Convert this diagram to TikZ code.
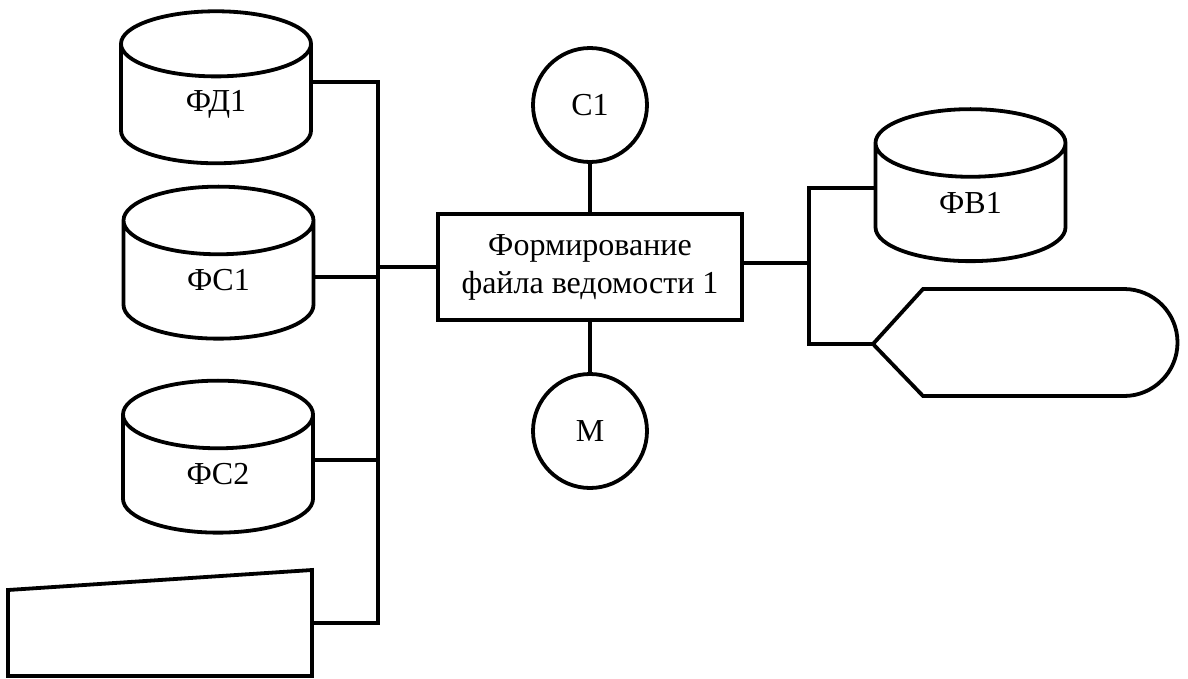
\documentclass[tikz,border=0pt]{standalone}
\usepackage{fontspec}
\setmainfont{Liberation Serif}
\newfontfamily\diagfont{Liberation Serif}
\usetikzlibrary{shapes.geometric,positioning,calc}

\begin{document}
\begin{tikzpicture}[
    x=1pt, y=-1pt,
    line width=3.8pt,
    font=\diagfont\fontsize{32}{38}\selectfont,
    store/.style={draw, cylinder, shape border rotate=90, aspect=1.08,
                  minimum width=190pt, minimum height=152pt, inner sep=0pt},
    proc/.style={draw, rectangle, align=center, inner sep=0pt,
                 minimum width=304pt, minimum height=106pt},
    conn/.style={draw, circle, minimum size=114pt, inner sep=0pt},
    link/.style={draw, line join=miter}
  ]
    \useasboundingbox (0,0) rectangle (1188,678);

    % data stores on the left
    \node[store] (fd1) at (216,104.5)  {ФД1};
    \node[store] (fs1) at (218.5,280.5) {ФС1};
    \node[store] (fs2) at (218,474.5) {ФС2};

    % process with its connectors
    \node[proc] (form) at (590,267) {Формирование\\файла ведомости 1};
    \node[conn] (c1) at (590,105) {С1};
    \node[conn] (m)  at (590,431) {М};

    % output store
    \node[store] (fv1) at (970.5,203) {ФВ1};

    % manual input and display
    \draw[link] (8,590) -- (312,570) -- (312,676) -- (8,676) -- cycle;
    \coordinate (inp) at (312,623);
    \draw[link] (873,344) -- (923,289) -- (1124,289)
        arc[start angle=-90, end angle=90, radius=53.5] -- (923,396) -- cycle;
    \coordinate (disp) at (873,344);

    % bus junctions
    \coordinate (jd1) at (378,82);
    \coordinate (js1) at (378,277);
    \coordinate (js2) at (378,460);
    \coordinate (jin) at (378,623);
    \coordinate (jr)  at (809,263);
    \coordinate (jv)  at (809,188);
    \coordinate (jd)  at (809,344);

    \draw[link] (fd1.east |- jd1) -- (jd1) -- (jin) -- (inp);
    \draw[link] (fs1.east |- js1) -- (js1);
    \draw[link] (fs2.east |- js2) -- (js2);
    \draw[link] (form.west) -- (form.west -| jd1);
    \draw[link] (form.east |- jr) -- (jr);
    \draw[link] (fv1.west |- jv) -- (jv) -- (jd) -- (disp);
    \draw[link] (c1) -- (form);
    \draw[link] (m) -- (form);
\end{tikzpicture}
\end{document}
